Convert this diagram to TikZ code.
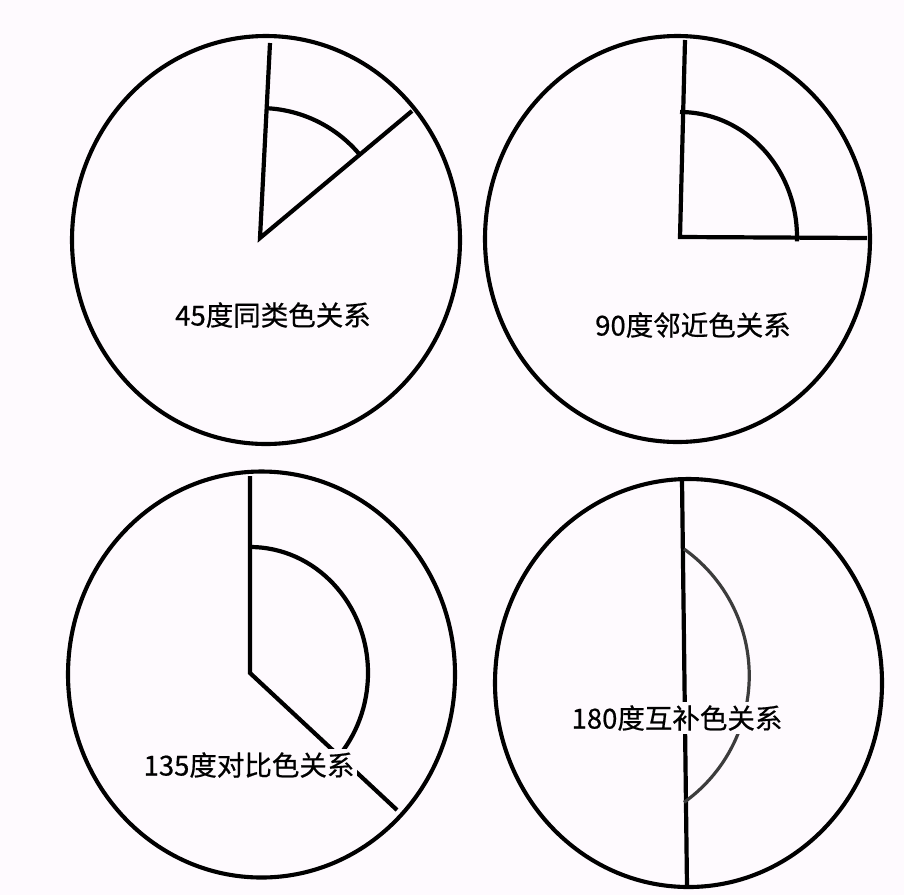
\documentclass[tikz,border=0pt]{standalone}
\usepackage{fontspec}
\newfontfamily\cjk[FakeBold=0.6]{Noto Sans CJK SC}
\definecolor{bgc}{RGB}{254,250,254}
\definecolor{arcgray}{RGB}{60,60,60}
\begin{document}
\begin{tikzpicture}[x=1pt,y=-1pt,
  ring/.style={draw=black,line width=4.1pt},
  ray/.style={draw=black,line width=4.2pt,line cap=butt},
  angarc/.style={draw=black,line width=4.2pt},
  graarc/.style={draw=arcgray,line width=3.2pt},
  lbl/.style={fill=bgc,inner sep=3pt,font=\cjk\fontsize{27.5}{29}\selectfont}]
\fill[bgc] (0,0) rectangle (904,895);
\useasboundingbox (0,0) rectangle (904,895);

% ---- 45 degrees
\draw[ring] (266,240) ellipse [x radius=194, y radius=204];
\coordinate (v1) at (260,238);
\coordinate (t1) at (270,43);
\coordinate (d1) at (412,111);
\draw[ray] (t1) -- (v1) -- (d1);
\draw[angarc] (266.8,108.2) arc [start angle=-87, end angle=-40, radius=130];
\node[lbl] (l1) at (273,315) {45度同类色关系};

% ---- 90 degrees
\draw[ring] (677.5,239) ellipse [x radius=192.5, y radius=203];
\coordinate (v2) at (680,237);
\coordinate (t2) at (685,40);
\coordinate (d2) at (867,238);
\draw[ray] (t2) -- (v2) -- (d2);
\draw[angarc] (680,112) arc [start angle=-90, end angle=2, x radius=117, y radius=125];
\node[lbl] (l2) at (693,325) {90度邻近色关系};

% ---- 135 degrees
\draw[ring] (261.5,674.5) ellipse [x radius=193.5, y radius=203];
\coordinate (v3) at (250,673);
\coordinate (t3) at (250,476);
\coordinate (d3) at (397,810);
\draw[ray] (t3) -- (v3) -- (d3);
\draw[angarc] (250,547) arc [start angle=-90, end angle=43, x radius=118, y radius=126];
\node[lbl] (l3) at (249,765) {135度对比色关系};

% ---- 180 degrees
\draw[ring] (688.5,683) ellipse [x radius=193.5, y radius=204];
\coordinate (t4) at (682,480);
\coordinate (b4) at (687,887);
\draw[ray] (t4) -- (b4);
\draw[graarc] (684,549) arc [start angle=-54.5, end angle=54.5, radius=155.6];
\node[lbl] (l4) at (677,718) {180度互补色关系};
\end{tikzpicture}
\end{document}
